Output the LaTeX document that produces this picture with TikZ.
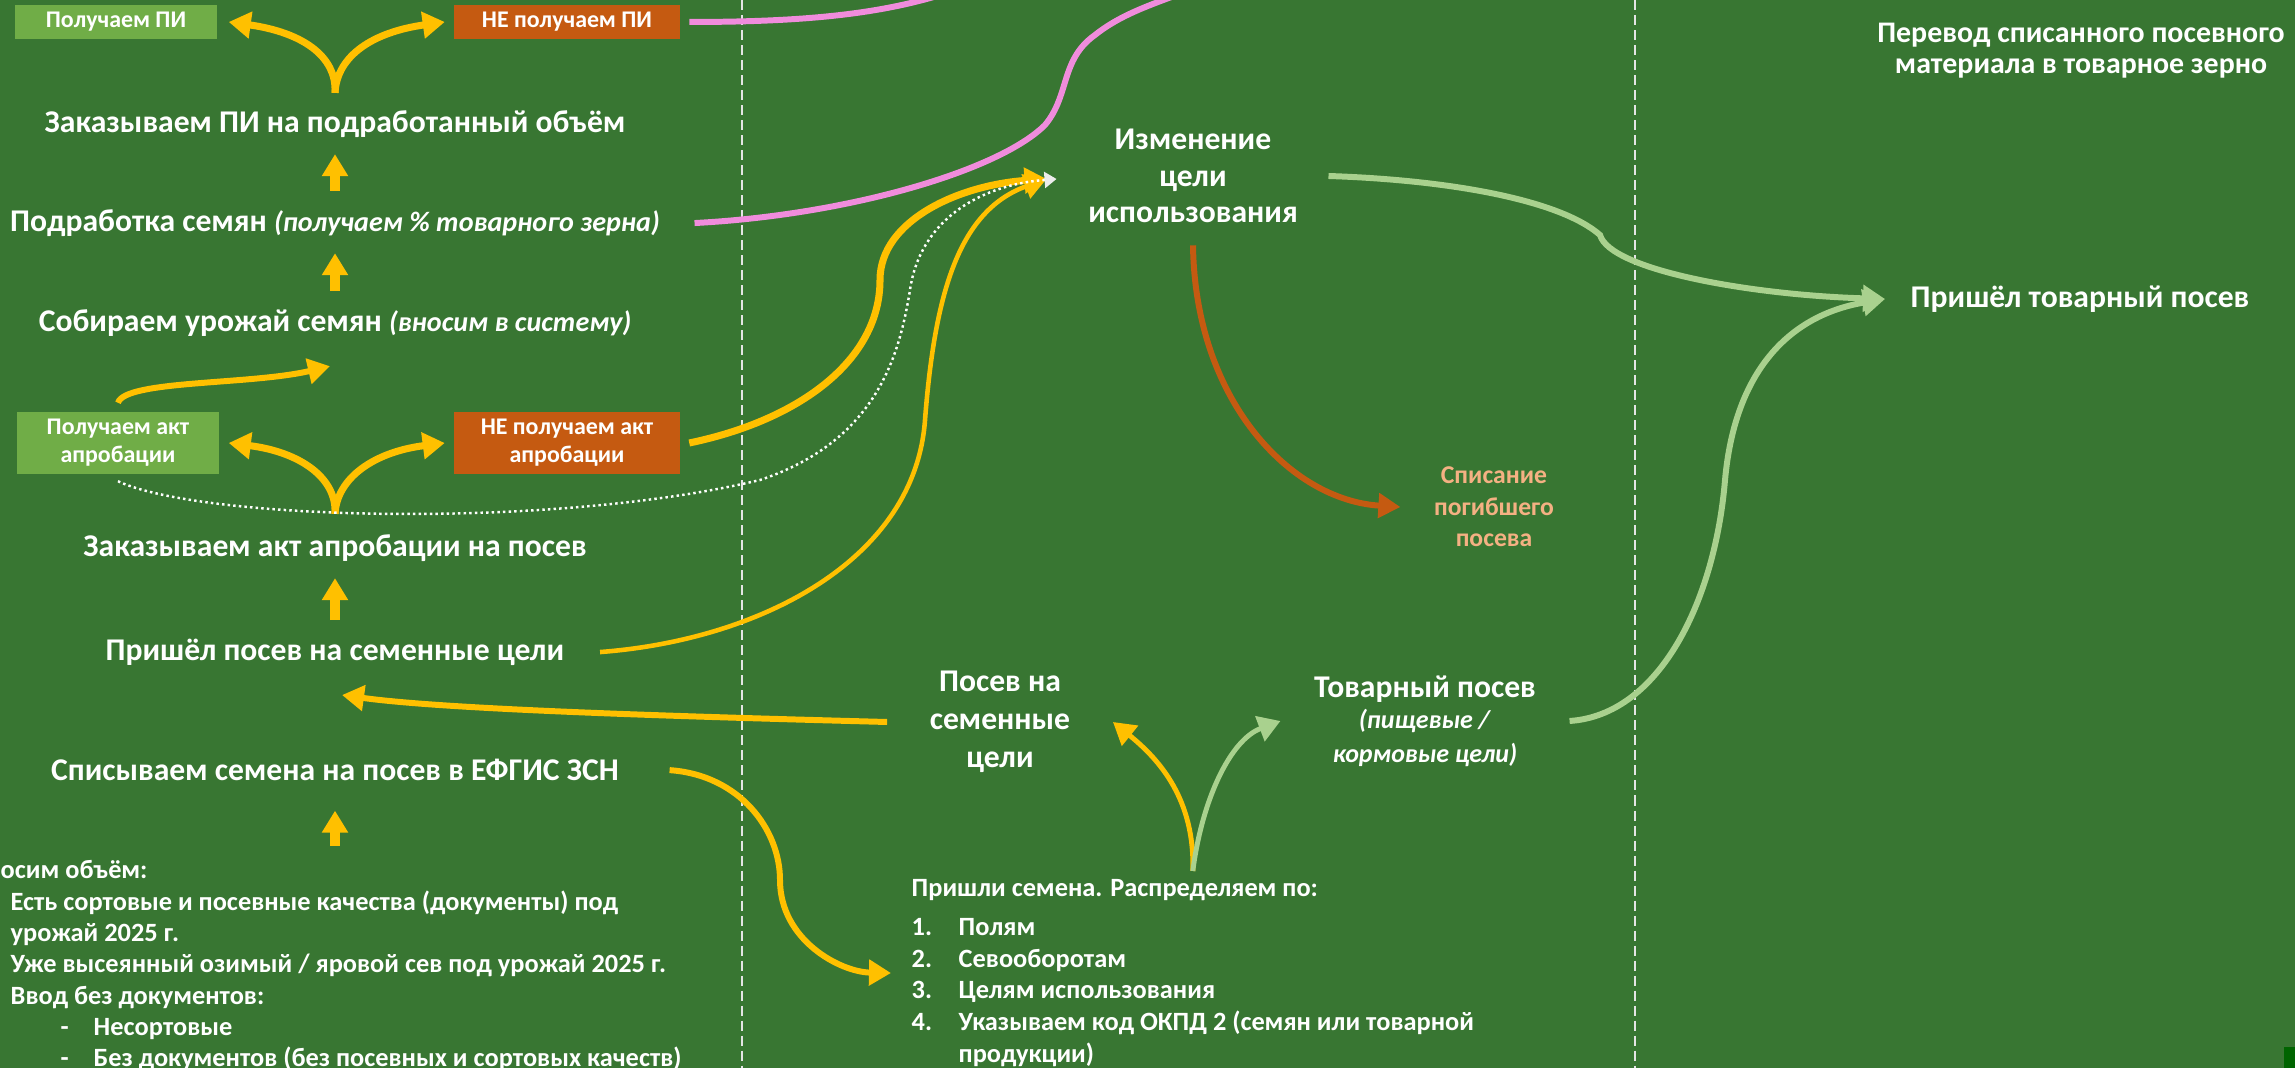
\documentclass[tikz,border=0pt]{standalone}
\usepackage{fontspec}
\setmainfont{Carlito}
\usetikzlibrary{positioning}
\usetikzlibrary{arrows.meta}
\definecolor{bg}{RGB}{56,118,50}
\definecolor{gold}{RGB}{255,192,0}
\definecolor{leaf}{RGB}{112,173,71}
\definecolor{rust}{RGB}{197,90,17}
\definecolor{pinkline}{RGB}{240,140,220}
\definecolor{pale}{RGB}{169,209,142}
\definecolor{salmon}{RGB}{244,177,131}
\definecolor{darkleaf}{RGB}{0,100,0}
\tikzset{lbl/.style={text=white,align=center,inner sep=0pt,font=\bfseries\fontsize{9}{10.3}\selectfont}}
\tikzset{smallbox/.style={text=white,align=center,inner sep=0pt,minimum height=0.34cm,font=\bfseries\fontsize{6.8}{8}\selectfont}}
\tikzset{yesbox/.style={smallbox,fill=leaf,minimum width=2.02cm}}
\tikzset{nobox/.style={smallbox,fill=rust,minimum width=2.25cm}}
\tikzset{uparrow/.style={gold,line width=2.6pt,-{Triangle[length=0.22cm,width=0.25cm]}}}
\tikzset{fork/.style={gold,line width=2pt,-{Triangle[length=0.22cm,width=0.26cm]}}}
\tikzset{link/.style={gold,line width=1.7pt,-{Triangle[length=0.22cm,width=0.25cm]}}}
\tikzset{palelink/.style={pale,line width=1.7pt,-{Triangle[length=0.22cm,width=0.26cm]}}}
\tikzset{sep/.style={white!80!gray,line width=0.4pt,dash pattern=on 0.1cm off 0.05cm}}
\newcommand{\remark}[1]{{\fontsize{8}{10}\selectfont\textit{#1}}}

\begin{document}
\begin{tikzpicture}[x=0.01cm,y=-0.01cm]
\fill[bg] (0,0) rectangle (2295,1068);
\useasboundingbox (0,0) rectangle (2295,1068);
\fill[darkleaf] (2284,1047) rectangle (2295,1068);
\draw[sep] (742,0) -- (742,1068);
\draw[sep] (1635,0) -- (1635,1068);

% left column
\node[yesbox] (polPI) at (116,22) {Получаем ПИ};
\node[nobox] (nePI) at (567,22) {НЕ получаем ПИ};
\begin{scope}[on grid]
\node[lbl] (zakPI) at (335,124) {Заказываем ПИ на подработанный объём};
\node[lbl] (podr) [below=0.99cm of zakPI] {Подработка семян \remark{(получаем \% товарного зерна)}};
\node[lbl] (sobir) [below=1cm of podr] {Собираем урожай семян \remark{(вносим в систему)}};
\node[lbl] (zakAkt) at (335,548) {Заказываем акт апробации на посев};
\node[lbl] (prishel) [below=1.04cm of zakAkt] {Пришёл посев на семенные цели};
\node[lbl] (spis) [below=1.18cm of prishel] {Списываем семена на посев в ЕФГИС ЗСН};
\end{scope}
\node[yesbox,minimum height=0.61cm] (polAkt) at (118,443) {Получаем акт\\апробации};
\node[nobox,minimum height=0.61cm] (neAkt) at (567,443) {НЕ получаем акт\\апробации};
\node[lbl,align=left,anchor=north west,font=\bfseries\fontsize{7.5}{8.9}\selectfont] (vnos) at (0,860)
  {осим объём:\\
   \hspace*{0.1cm}Есть сортовые и посевные качества (документы) под\\
   \hspace*{0.1cm}урожай 2025 г.\\
   \hspace*{0.1cm}Уже высеянный озимый / яровой сев под урожай 2025 г.\\
   \hspace*{0.1cm}Ввод без документов:\\
   \hspace*{0.6cm}\makebox[0.33cm][l]{-}Несортовые\\
   \hspace*{0.6cm}\makebox[0.33cm][l]{-}Без документов (без посевных и сортовых качеств)};

% middle and right
\node[lbl] (izm) at (1193,176) {Изменение\\цели\\использования};
\node[lbl,text=salmon,font=\bfseries\fontsize{7.3}{9}\selectfont] (spisP) at (1494,507) {Списание\\погибшего\\посева};
\node[lbl,font=\bfseries\fontsize{8.5}{8.8}\selectfont] (perevod) at (2081,51) {Перевод списанного посевного\\материала в товарное зерно};
\node[lbl] (prishTov) at (2080,299) {Пришёл товарный посев};
\node[lbl,font=\bfseries\fontsize{9}{10.8}\selectfont] (posSem) at (1000,722) {Посев на\\семенные\\цели};
\node[lbl] (tovar) at (1425,721) {Товарный посев\\[-1.3pt]{\fontsize{7.4}{8.6}\selectfont\textit{(пищевые /}}\\[-0.8pt]{\fontsize{7.4}{8.6}\selectfont\textit{кормовые цели)}}};
\node[lbl,align=left,anchor=north west,font=\bfseries\fontsize{7.5}{9}\selectfont] (prishSem) at (911,879)
  {Пришли семена. Распределяем по:\\[2pt]
   \makebox[0.47cm][l]{1.}Полям\\
   \makebox[0.47cm][l]{2.}Севооборотам\\
   \makebox[0.47cm][l]{3.}Целям использования\\
   \makebox[0.47cm][l]{4.}Указываем код ОКПД 2 (семян или товарной\\
   \hspace*{0.47cm}продукции)};

\coordinate (forkPI) at ([yshift=0.17cm]zakPI.north);
\coordinate (forkAkt) at ([yshift=0.2cm]zakAkt.north);
\coordinate (forkSem) at ([yshift=0.08cm]prishSem.north);
\coordinate (izmIn) at ([shift={(-0.41cm,-0.03cm)}]izm.west);
\coordinate (pinkA) at (950,-8);
\coordinate (pinkB) at (1185,-8);

% forks
\draw[fork] (forkPI) .. controls (337,55) and (300,32) .. ([xshift=0.11cm]polPI.east);
\draw[fork] (forkPI) .. controls (337,55) and (374,32) .. ([xshift=-0.09cm]nePI.west);
\draw[fork] (forkAkt) .. controls (337,478) and (300,452) .. ([xshift=0.09cm]polAkt.east);
\draw[fork] (forkAkt) .. controls (337,478) and (374,452) .. ([xshift=-0.09cm]neAkt.west);

% up arrows
\draw[uparrow,shorten <=0.18cm,shorten >=0.16cm] (podr.north) -- (zakPI.south);
\draw[uparrow,shorten <=0.18cm,shorten >=0.16cm] (sobir.north) -- (podr.south);
\draw[uparrow,shorten <=0.18cm,shorten >=0.16cm] (prishel.north) -- (zakAkt.south);
\draw[uparrow,shorten <=0.14cm,shorten >=0.29cm] (vnos.north -| spis.south) -- (spis.south);

\draw[link] ([yshift=0.09cm]polAkt.north) .. controls (125,380) and (250,385) .. ([shift={(-0.05cm,-0.29cm)}]sobir.south);

% into izm
\draw[link,line width=2pt] ([xshift=0.09cm]neAkt.east) .. controls (800,420) and (880,360) .. (880,280)
  .. controls (880,220) and (960,185) .. (izmIn);
\draw[link,line width=1.3pt] ([xshift=0.35cm]prishel.east) .. controls (760,640) and (915,560) .. (925,420)
  .. controls (935,290) and (960,210) .. (izmIn);
\draw[white,line width=0.7pt,dash pattern=on 0.7pt off 0.9pt,-{Triangle[length=0.12cm,width=0.16cm,color=white!85!gray]}]
  ([yshift=-0.07cm]polAkt.south) .. controls (200,520) and (550,530) .. (760,480)
  .. controls (880,440) and (900,350) .. (910,290) .. controls (920,220) and (980,185) .. ([xshift=0.1cm]izmIn);

% pink
\draw[pinkline,line width=1.7pt] ([xshift=0.09cm]nePI.east) .. controls (800,22) and (880,15) .. (pinkA);
\draw[pinkline,line width=1.7pt] ([xshift=0.34cm]podr.east) .. controls (850,215) and (1000,170) .. (1045,125)
  .. controls (1070,95) and (1060,60) .. (1095,35) .. controls (1120,15) and (1150,5) .. (pinkB);

% right
\draw[palelink] ([xshift=0.3cm]izm.east) .. controls (1450,180) and (1560,200) .. (1600,235)
  .. controls (1610,270) and (1750,295) .. ([xshift=-0.25cm]prishTov.west);
\draw[palelink] ([xshift=0.33cm]tovar.east) .. controls (1660,715) and (1715,600) .. (1725,480)
  .. controls (1735,370) and (1790,315) .. ([xshift=-0.25cm]prishTov.west);
\draw[rust,line width=1.7pt,-{Triangle[length=0.22cm,width=0.24cm]}] ([yshift=-0.22cm]izm.south)
  .. controls (1195,400) and (1290,500) .. ([xshift=-0.33cm]spisP.west);

% bottom
\draw[link] ([xshift=-0.42cm]posSem.west) .. controls (700,717) and (450,710) .. ([shift={(0.07cm,-0.29cm)}]prishel.south);
\draw[link] ([xshift=0.5cm]spis.east) .. controls (740,775) and (780,830) .. (780,880)
  .. controls (780,940) and (840,972) .. ([xshift=-0.2cm]prishSem.west);
\draw[link,line width=1.4pt] (forkSem) .. controls (1195,800) and (1160,760) .. ([xshift=0.42cm]posSem.east);
\draw[palelink,line width=1.4pt] (forkSem) .. controls (1202,800) and (1230,740) .. ([xshift=-0.33cm]tovar.west);
\end{tikzpicture}
\end{document}
